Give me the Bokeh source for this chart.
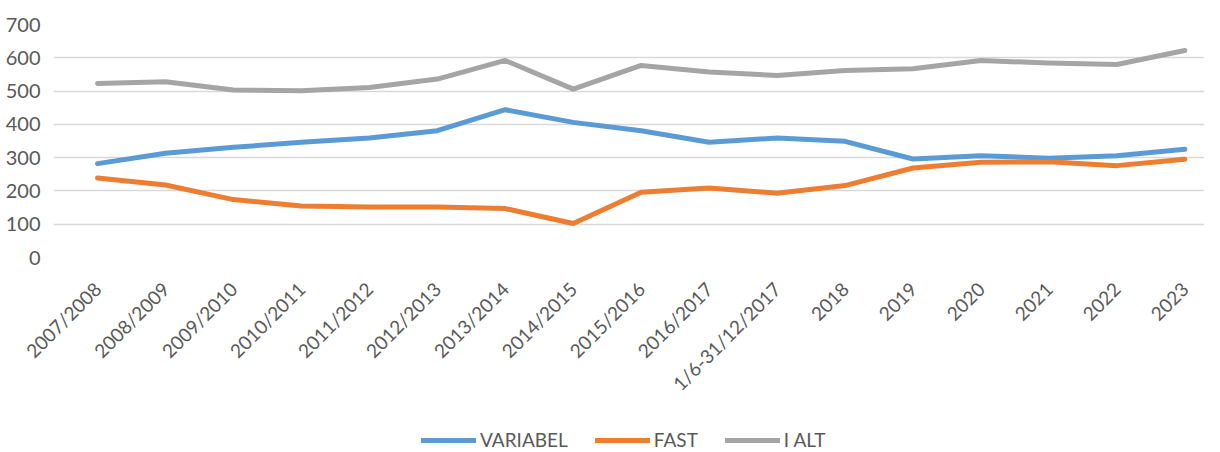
from bokeh.plotting import figure
from bokeh.models import Range1d, FixedTicker, Legend, LegendItem
from bokeh.layouts import column
from bokeh.embed import file_html
from bokeh.resources import INLINE
import math

categories = ["2007/2008", "2008/2009", "2009/2010", "2010/2011", "2011/2012",
              "2012/2013", "2013/2014", "2014/2015", "2015/2016", "2016/2017",
              "1/6-31/12/2017", "2018", "2019", "2020", "2021", "2022", "2023"]
variabel = [282, 313, 331, 346, 359, 381, 444, 406, 381, 346, 359, 349, 296, 306, 298, 306, 325]
fast = [239, 218, 174, 155, 152, 152, 147, 102, 196, 209, 193, 216, 269, 286, 288, 276, 295]
i_alt = [523, 528, 503, 501, 511, 536, 592, 506, 577, 557, 547, 562, 567, 592, 584, 580, 622]
y_ticks = [0, 100, 200, 300, 400, 500, 600, 700]
series_names = ["VARIABEL", "FAST", "I ALT"]
series_colors = ["#5B9BD5", "#ED7D31", "#A5A5A5"]

FONT = "Lato"
TXT = "#595959"

xs = list(range(len(categories)))
series_values = [variabel, fast, i_alt]

p = figure(width=1204, height=420, output_backend="svg", toolbar_location=None,
           x_range=Range1d(-0.648, 16.29), y_range=Range1d(0, 700),
           min_border_left=53, min_border_right=0, min_border_top=24, min_border_bottom=163)
p.outline_line_color = None
p.background_fill_color = "white"
p.border_fill_color = "white"

p.xgrid.grid_line_color = None
p.ygrid.grid_line_color = "#D9D9D9"
p.ygrid.grid_line_width = 1.3

p.yaxis.ticker = FixedTicker(ticks=y_ticks)
p.yaxis.axis_line_color = None
p.yaxis.major_tick_line_color = None
p.yaxis.minor_tick_line_color = None
p.yaxis.major_label_text_font = FONT
p.yaxis.major_label_text_font_size = "20px"
p.yaxis.major_label_text_color = TXT
p.yaxis.major_label_standoff = 7

p.xaxis.ticker = FixedTicker(ticks=xs)
p.xaxis.major_label_overrides = {i: c for i, c in enumerate(categories)}
p.xaxis.axis_line_color = None
p.xaxis.major_tick_line_color = None
p.xaxis.minor_tick_line_color = None
p.xaxis.major_label_orientation = math.pi / 4
p.xaxis.major_label_text_font = FONT
p.xaxis.major_label_text_font_size = "19px"
p.xaxis.major_label_text_color = TXT
p.xaxis.major_label_standoff = 22

for vals, col in zip(series_values, series_colors):
    p.line(xs, vals, line_color=col, line_width=5, line_join="round", line_cap="round")

# legend strip below the chart (its ranges keep the series out of view; only the legend shows)
lg = figure(width=1204, height=32, output_backend="svg", toolbar_location=None,
            x_range=Range1d(-100, -99), y_range=Range1d(-100, -99),
            x_axis_type=None, y_axis_type=None,
            min_border_left=0, min_border_right=0, min_border_top=0, min_border_bottom=0)
lg.outline_line_color = None
lg.grid.visible = False
items = []
for name, vals, col in zip(series_names, series_values, series_colors):
    r = lg.line(xs, vals, line_color=col, line_width=5, line_cap="round")
    items.append(LegendItem(label=name, renderers=[r]))
legend = Legend(items=items, orientation="horizontal", location=(368, 1),
                label_text_font=FONT, label_text_font_size="19px", label_text_color=TXT,
                glyph_width=55, glyph_height=20, label_height=20, label_standoff=4,
                spacing=27, padding=0, margin=0, border_line_color=None,
                background_fill_alpha=0)
lg.add_layout(legend, "center")

open("out.html", "w").write(file_html(column(p, lg), INLINE))
